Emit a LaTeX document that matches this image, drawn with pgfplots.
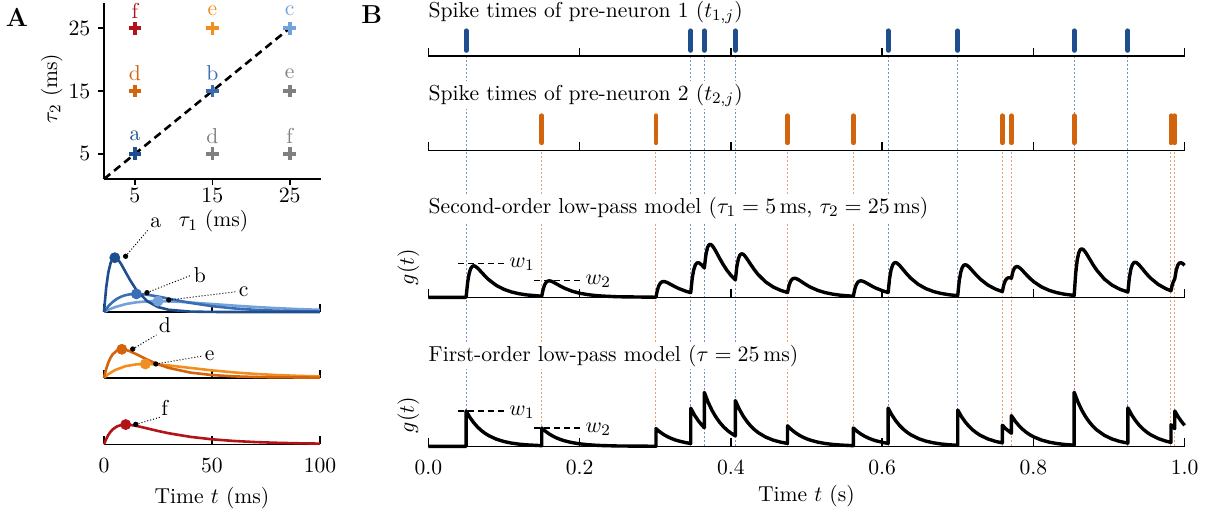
\documentclass[border=0pt]{standalone}
\usepackage{pgfplots}
\pgfplotsset{compat=1.18}
\definecolor{cA}{RGB}{31,78,143}
\definecolor{cB}{RGB}{58,110,180}
\definecolor{cC}{RGB}{115,162,218}
\definecolor{cD}{RGB}{210,100,14}
\definecolor{cE}{RGB}{242,142,30}
\definecolor{cF}{RGB}{178,18,24}
\definecolor{cG}{RGB}{128,128,128}
\definecolor{dBlue}{RGB}{70,110,180}
\definecolor{dOrange}{RGB}{220,110,40}
\pgfplotsset{
  common/.style={scale only axis, anchor=south west, clip=false,
    axis x line*=bottom, axis y line=none, ytick=\empty,
    xtick align=inside, major tick length=4pt,
    tick style={black, line width=0.8pt},
    axis line style={black, line width=0.8pt}},
  rowax/.style={common, width=378.15pt, xmin=0, xmax=1, ymin=0,
    xtick={0,0.2,0.4,0.6,0.8,1}, xticklabels={}},
  kax/.style={common, width=108pt, xmin=0, xmax=100, ymin=0,
    xtick={0,50,100}, xticklabels={}},
}
\begin{document}
\fontsize{10.8}{12.5}\selectfont
\begin{tikzpicture}
\useasboundingbox (0,0) rectangle (603pt,258pt);

% ---------------- Panel A: tau grid
\begin{axis}[at={(52pt,168.5pt)}, anchor=south west, scale only axis,
  width=108.35pt, height=88pt, xmin=1, xmax=29, ymin=1, ymax=29,
  axis x line*=bottom, axis y line*=left, clip=false,
  xtick={5,15,25}, ytick={5,15,25}, tick align=outside, major tick length=3pt,
  xticklabel style={inner sep=1.5pt},
  tick style={black, line width=0.8pt}, axis line style={black, line width=0.8pt}]
\addplot[black, line width=1.3pt, dash pattern=on 4pt off 2.5pt] coordinates {(1,1) (25,25)};
\addplot[only marks, mark=+, mark size=3.2pt, line width=1.8pt, cG] coordinates {(15,5) (25,15) (25,5)};
\addplot[only marks, mark=+, mark size=3.2pt, line width=1.8pt, cA] coordinates {(5,5)};
\addplot[only marks, mark=+, mark size=3.2pt, line width=1.8pt, cB] coordinates {(15,15)};
\addplot[only marks, mark=+, mark size=3.2pt, line width=1.8pt, cC] coordinates {(25,25)};
\addplot[only marks, mark=+, mark size=3.2pt, line width=1.8pt, cD] coordinates {(5,15)};
\addplot[only marks, mark=+, mark size=3.2pt, line width=1.8pt, cE] coordinates {(15,25)};
\addplot[only marks, mark=+, mark size=3.2pt, line width=1.8pt, cF] coordinates {(5,25)};
\node[cA] at (axis cs:5,5) [yshift=8.8pt] {a};
\node[cB] at (axis cs:15,15) [yshift=8.8pt] {b};
\node[cC] at (axis cs:25,25) [yshift=8.8pt] {c};
\node[cD] at (axis cs:5,15) [yshift=8.8pt] {d};
\node[cE] at (axis cs:15,25) [yshift=8.8pt] {e};
\node[cF] at (axis cs:5,25) [yshift=8.8pt] {f};
\node[cG] at (axis cs:15,5) [yshift=8.8pt] {d};
\node[cG] at (axis cs:25,15) [yshift=8.8pt] {e};
\node[cG] at (axis cs:25,5) [yshift=8.8pt] {f};
\end{axis}
\node at (106.75pt,147.3pt) {$\tau_1$ (ms)};
\node[rotate=90] at (25.8pt,213.8pt) {$\tau_2$ (ms)};
\node[font=\fontsize{13}{15}\selectfont\bfseries] at (8.5pt,249.3pt) {A};
\node[font=\fontsize{13}{15}\selectfont\bfseries] at (185.85pt,250.5pt) {B};

% ---------------- Panel A: kernels a,b,c
\begin{axis}[kax, at={(52pt,102pt)}, height=29.52pt, ymax=80]
\addplot[cC, line width=1.3pt] coordinates {(0,0) (2,2.95) (5,6.55) (10,10.72) (15,13.17) (20,14.38) (25,14.72) (30,14.46) (35,13.81) (40,12.92) (50,10.82) (60,8.71) (70,6.81) (80,5.22) (90,3.93) (100,2.93)};
\addplot[cB, line width=1.3pt] coordinates {(0,0) (2,7.78) (4,13.62) (6,17.88) (8,20.86) (10,22.82) (12,23.96) (15,24.53) (18,24.10) (20,23.43) (25,20.99) (30,18.04) (35,15.09) (40,12.36) (50,7.93) (60,4.88) (70,2.92) (80,1.72) (90,0.99) (100,0.56)};
\addplot[cA, line width=1.3pt] coordinates {(0,0) (1,32.75) (2,53.62) (3,65.86) (4,71.89) (5,73.58) (6,72.29) (7,69.05) (8,64.61) (10,54.13) (12,43.54) (15,29.88) (20,14.64) (25,6.74) (30,2.98) (40,0.54) (50,0.09) (60,0.01) (100,0)};
\addplot[only marks, mark=*, mark size=2.5pt, cA] coordinates {(5,73.58)};
\addplot[only marks, mark=*, mark size=2.5pt, cB] coordinates {(15,24.53)};
\addplot[only marks, mark=*, mark size=2.5pt, cC] coordinates {(25,14.72)};
\draw[densely dotted, line width=0.5pt] (axis cs:10,75.5) -- (axis cs:20.3,111) node[anchor=south west, inner sep=1pt] {a};
\draw[densely dotted, line width=0.5pt] (axis cs:19.9,26.2) -- (axis cs:40.5,50) node[anchor=west, inner sep=1pt] {b};
\draw[densely dotted, line width=0.5pt] (axis cs:30,16.3) -- (axis cs:61.3,27.5) node[anchor=west, inner sep=1pt] {c};
\addplot[only marks, mark=*, mark size=1.1pt, black] coordinates {(10,75.5) (19.9,26.2) (30,16.3)};
\end{axis}

% ---------------- Panel A: kernels d,e
\begin{axis}[kax, at={(52pt,69.15pt)}, height=16.6pt, ymax=45]
\addplot[cE, line width=1.3pt] coordinates {(0,0) (2,4.79) (5,10.22) (10,15.69) (15,18.09) (20,18.57) (25,17.90) (30,16.59) (40,13.24) (50,9.96) (60,7.24) (70,5.14) (80,3.60) (90,2.48) (100,1.70)};
\addplot[cD, line width=1.3pt] coordinates {(0,0) (1,11.68) (2,20.49) (3,26.99) (4,31.66) (6,36.91) (8,38.47) (10,37.81) (12,35.86) (15,31.81) (20,24.53) (25,18.22) (30,13.28) (40,6.92) (50,3.57) (60,1.83) (70,0.94) (80,0.48) (100,0.13)};
\addplot[only marks, mark=*, mark size=2.5pt, cD] coordinates {(8.24,38.5)};
\addplot[only marks, mark=*, mark size=2.5pt, cE] coordinates {(19.16,18.6)};
\draw[densely dotted, line width=0.5pt] (axis cs:13.3,38.9) -- (axis cs:24.3,58) node[anchor=south west, inner sep=1pt] {d};
\draw[densely dotted, line width=0.5pt] (axis cs:24,18.6) -- (axis cs:45.6,29.4) node[anchor=west, inner sep=1pt] {e};
\addplot[only marks, mark=*, mark size=1.1pt, black] coordinates {(13.3,38.9) (24,18.6)};
\end{axis}

% ---------------- Panel A: kernel f
\begin{axis}[kax, at={(52pt,35.85pt)}, height=14.76pt, ymax=40,
  xticklabels={0,50,100}, xticklabel style={yshift=-3pt}]
\addplot[cF, line width=1.3pt] coordinates {(0,0) (1,7.10) (2,12.64) (3,16.91) (4,20.14) (6,24.27) (8,26.21) (10,26.75) (12,26.40) (15,24.95) (20,21.55) (25,18.06) (30,14.94) (40,10.08) (50,6.77) (60,4.54) (70,3.04) (80,2.04) (90,1.37) (100,0.92)};
\addplot[only marks, mark=*, mark size=2.5pt, cF] coordinates {(10.06,26.75)};
\draw[densely dotted, line width=0.5pt] (axis cs:14.7,27.1) -- (axis cs:25.9,36.6) node[anchor=south west, inner sep=0.5pt] {f};
\addplot[only marks, mark=*, mark size=1.1pt, black] coordinates {(14.7,27.1)};
\end{axis}
\node at (106pt,9pt) {Time $t$ (ms)};

% ---------------- Panel B: dashed guide lines
\begin{axis}[at={(214.15pt,34.85pt)}, anchor=south west, scale only axis,
  width=378.15pt, height=195.15pt, xmin=0, xmax=1, ymin=0, ymax=1,
  hide axis, clip=false, unbounded coords=jump]
\addplot[dBlue, opacity=0.75, line width=0.5pt, dash pattern=on 1.2pt off 0.8pt] coordinates {
(0.050,0) (0.050,1) (0.050,nan) (0.347,0) (0.347,1) (0.347,nan)
(0.365,0) (0.365,1) (0.365,nan) (0.406,0) (0.406,1) (0.406,nan)
(0.608,0) (0.608,1) (0.608,nan) (0.700,0) (0.700,1) (0.700,nan)
(0.854,0) (0.854,1) (0.854,nan) (0.925,0) (0.925,1)};
\addplot[dOrange, opacity=0.65, line width=0.5pt, dash pattern=on 1.2pt off 0.8pt] coordinates {
(0.150,0) (0.150,0.758) (0.150,nan) (0.301,0) (0.301,0.758) (0.301,nan)
(0.475,0) (0.475,0.758) (0.475,nan) (0.562,0) (0.562,0.758) (0.562,nan)
(0.759,0) (0.759,0.758) (0.759,nan) (0.771,0) (0.771,0.758) (0.771,nan)
(0.854,0) (0.854,0.758) (0.854,nan) (0.982,0) (0.982,0.758) (0.982,nan)
(0.987,0) (0.987,0.758)};
\end{axis}

% titles (white boxes over guide lines)
\node[anchor=base west, fill=white, inner sep=1.5pt] at (212.65pt,249.3pt) {Spike times of pre-neuron 1 ($t_{1,j}$)};
\node[anchor=base west, fill=white, inner sep=1.5pt] at (212.65pt,208pt) {Spike times of pre-neuron 2 ($t_{2,j}$)};
\node[anchor=base west, fill=white, inner sep=1.5pt] at (212.65pt,151.3pt) {Second-order low-pass model ($\tau_1 = 5$\,ms, $\tau_2 = 25$\,ms)};
\node[anchor=base west, fill=white, inner sep=1.5pt] at (212.65pt,77.5pt) {First-order low-pass model ($\tau = 25$\,ms)};

% ---------------- Panel B: spike row 1
\begin{axis}[rowax, at={(214.15pt,230pt)}, height=14pt, ymax=1, unbounded coords=jump]
\addplot[cA, line width=2.4pt, line cap=round] coordinates {
(0.050,0.2) (0.050,0.9) (0.050,nan) (0.347,0.2) (0.347,0.9) (0.347,nan)
(0.365,0.2) (0.365,0.9) (0.365,nan) (0.406,0.2) (0.406,0.9) (0.406,nan)
(0.608,0.2) (0.608,0.9) (0.608,nan) (0.700,0.2) (0.700,0.9) (0.700,nan)
(0.854,0.2) (0.854,0.9) (0.854,nan) (0.925,0.2) (0.925,0.9)};
\end{axis}

% ---------------- Panel B: spike row 2
\begin{axis}[rowax, at={(214.15pt,182.85pt)}, height=18pt, ymax=1, unbounded coords=jump]
\addplot[cD, line width=2.4pt, line cap=round] coordinates {
(0.150,0.21) (0.150,0.96) (0.150,nan) (0.301,0.21) (0.301,0.96) (0.301,nan)
(0.475,0.21) (0.475,0.96) (0.475,nan) (0.562,0.21) (0.562,0.96) (0.562,nan)
(0.759,0.21) (0.759,0.96) (0.759,nan) (0.771,0.21) (0.771,0.96) (0.771,nan)
(0.854,0.21) (0.854,0.96) (0.854,nan) (0.982,0.21) (0.982,0.96) (0.982,nan)
(0.987,0.21) (0.987,0.96)};
\end{axis}

% ---------------- Panel B: second-order model
\begin{axis}[rowax, at={(214.15pt,109.35pt)}, height=28.35pt, ymax=1.8]
\addplot[black, line width=1.7pt, line join=round] coordinates {
(0,0) (0.05,0) (0.052,0.4725) (0.054,0.7529) (0.056,0.9073) (0.058,0.9798) (0.06,1.0) (0.062,0.9871) (0.065,0.9327) (0.07,0.8056) (0.075,0.6751) (0.08,0.5583) (0.09,0.3768) (0.1,0.2529) (0.11,0.1695) (0.12,0.1136) (0.13,0.0763) (0.15,0.0342)
(0.152,0.2679) (0.154,0.4054) (0.156,0.4806) (0.158,0.5146) (0.16,0.5228) (0.162,0.5146) (0.165,0.4851) (0.17,0.4181) (0.175,0.3501) (0.18,0.2894) (0.19,0.1951) (0.2,0.131) (0.21,0.0879) (0.22,0.0589) (0.23,0.0395) (0.25,0.0178) (0.301,0.0023)
(0.303,0.2383) (0.305,0.3783) (0.307,0.4553) (0.309,0.4914) (0.311,0.5015) (0.313,0.4948) (0.316,0.4677) (0.321,0.4037) (0.326,0.3383) (0.331,0.2798) (0.341,0.1888) (0.347,0.1486)
(0.349,0.6097) (0.351,0.8796) (0.353,1.0243) (0.355,1.0879) (0.357,1.0998) (0.359,1.0793) (0.362,1.0144) (0.365,0.9314)
(0.367,1.3452) (0.369,1.567) (0.371,1.6647) (0.373,1.6829) (0.375,1.6516) (0.377,1.5903) (0.38,1.4694) (0.385,1.2462) (0.39,1.0363) (0.395,0.8542) (0.4,0.7015) (0.406,0.5527)
(0.408,0.9828) (0.41,1.2241) (0.412,1.3423) (0.414,1.3813) (0.416,1.3709) (0.418,1.3296) (0.421,1.2363) (0.426,1.0542) (0.431,0.8787) (0.436,0.7251) (0.446,0.4886) (0.456,0.3277) (0.466,0.2196) (0.475,0.1533)
(0.477,0.3776) (0.479,0.5069) (0.481,0.5742) (0.483,0.6011) (0.485,0.6026) (0.487,0.5882) (0.49,0.5505) (0.495,0.4716) (0.5,0.3938) (0.505,0.3252) (0.515,0.2193) (0.525,0.1471) (0.535,0.0987) (0.545,0.0662) (0.562,0.0335)
(0.564,0.2671) (0.566,0.4049) (0.568,0.48) (0.57,0.5142) (0.572,0.5223) (0.574,0.5142) (0.577,0.4847) (0.582,0.4178) (0.587,0.3497) (0.592,0.2892) (0.602,0.1951) (0.608,0.1536)
(0.61,0.6144) (0.612,0.8838) (0.614,1.0282) (0.616,1.0914) (0.618,1.103) (0.62,1.0823) (0.623,1.017) (0.628,0.8746) (0.633,0.7316) (0.638,0.6047) (0.648,0.4079) (0.658,0.2736) (0.668,0.1836) (0.678,0.123) (0.688,0.0826) (0.7,0.051)
(0.702,0.5196) (0.704,0.7965) (0.706,0.9475) (0.708,1.0168) (0.71,1.0342) (0.712,1.0187) (0.715,0.9608) (0.72,0.8286) (0.725,0.6938) (0.73,0.5737) (0.74,0.3871) (0.75,0.2598) (0.759,0.1813)
(0.761,0.4036) (0.763,0.5309) (0.765,0.5963) (0.767,0.6215) (0.769,0.6215) (0.771,0.6056)
(0.773,0.8167) (0.775,0.9268) (0.777,0.9712) (0.779,0.9742) (0.781,0.9514) (0.783,0.9131) (0.786,0.841) (0.791,0.7114) (0.796,0.5909) (0.801,0.4869) (0.811,0.3277) (0.821,0.2198) (0.831,0.1475) (0.841,0.0989) (0.854,0.0589)
(0.856,0.763) (0.858,1.1795) (0.86,1.4073) (0.862,1.5124) (0.864,1.5395) (0.866,1.517) (0.869,1.4314) (0.874,1.2348) (0.879,1.0342) (0.884,0.8553) (0.894,0.577) (0.904,0.3871) (0.914,0.2596) (0.925,0.1673)
(0.927,0.6269) (0.929,0.8955) (0.931,1.0389) (0.933,1.1013) (0.935,1.1122) (0.937,1.0907) (0.94,1.0245) (0.945,0.8808) (0.95,0.7366) (0.955,0.6088) (0.965,0.4107) (0.975,0.2755) (0.982,0.2084)
(0.984,0.4286) (0.987,0.5918) (0.989,0.8694) (0.991,1.0193) (0.993,1.0862) (0.995,1.0998) (0.997,1.0808) (1,1.0168)};
\draw[densely dashed, line width=0.6pt] (axis cs:0.039,1.08) -- (axis cs:0.1,1.08);
\node[anchor=west, inner sep=1pt] at (axis cs:0.104,1.04) {$w_1$};
\draw[densely dashed, line width=0.6pt] (axis cs:0.14,0.54) -- (axis cs:0.2,0.54);
\node[anchor=west, inner sep=1pt] at (axis cs:0.205,0.5) {$w_2$};
\end{axis}
\node[rotate=90] at (204.15pt,124.5pt) {$g(t)$};

% ---------------- Panel B: first-order model
\begin{axis}[rowax, at={(214.15pt,34.85pt)}, height=28.24pt, ymax=1.6,
  xticklabels={0.0,0.2,0.4,0.6,0.8,1.0}, xticklabel style={yshift=-3pt}]
\addplot[black, line width=1.7pt, line join=round] coordinates {
(0,0) (0.05,0) (0.05,1) (0.055,0.8187) (0.06,0.6703) (0.065,0.5488) (0.07,0.4493) (0.075,0.3679) (0.08,0.3012) (0.09,0.2019) (0.1,0.1353) (0.11,0.0907) (0.12,0.0608) (0.13,0.0408) (0.15,0.0183)
(0.15,0.5183) (0.155,0.4243) (0.16,0.3474) (0.165,0.2844) (0.17,0.2329) (0.175,0.1907) (0.18,0.1561) (0.19,0.1046) (0.2,0.0701) (0.21,0.047) (0.22,0.0315) (0.23,0.0211) (0.25,0.0095) (0.301,0.0012)
(0.301,0.5012) (0.306,0.4103) (0.311,0.336) (0.316,0.2751) (0.321,0.2252) (0.326,0.1844) (0.331,0.151) (0.341,0.1012) (0.347,0.0796)
(0.347,1.0796) (0.352,0.8839) (0.357,0.7237) (0.362,0.5925) (0.365,0.5256)
(0.365,1.5256) (0.37,1.249) (0.375,1.0226) (0.38,0.8373) (0.385,0.6855) (0.39,0.5613) (0.395,0.4595) (0.4,0.3762) (0.406,0.296)
(0.406,1.296) (0.411,1.061) (0.416,0.8687) (0.421,0.7112) (0.426,0.5823) (0.431,0.4768) (0.436,0.3904) (0.446,0.2617) (0.456,0.1753) (0.466,0.1175) (0.475,0.082)
(0.475,0.582) (0.48,0.4765) (0.485,0.3901) (0.49,0.3194) (0.495,0.2615) (0.5,0.2141) (0.505,0.1753) (0.515,0.1175) (0.525,0.0787) (0.535,0.0528) (0.545,0.0354) (0.562,0.0179)
(0.562,0.5179) (0.567,0.424) (0.572,0.3471) (0.577,0.2842) (0.582,0.2327) (0.587,0.1905) (0.592,0.156) (0.602,0.1046) (0.608,0.0822)
(0.608,1.0822) (0.613,0.886) (0.618,0.7254) (0.623,0.5939) (0.628,0.4862) (0.633,0.3981) (0.638,0.326) (0.648,0.2185) (0.658,0.1464) (0.668,0.0982) (0.678,0.0658) (0.688,0.0442) (0.7,0.0273)
(0.7,1.0273) (0.705,0.8411) (0.71,0.6886) (0.715,0.5638) (0.72,0.4616) (0.725,0.3779) (0.73,0.3094) (0.74,0.2074) (0.75,0.139) (0.759,0.097)
(0.759,0.597) (0.764,0.4888) (0.771,0.3694)
(0.771,0.8694) (0.776,0.7118) (0.781,0.5828) (0.786,0.4771) (0.791,0.3906) (0.796,0.3198) (0.801,0.2619) (0.811,0.1755) (0.821,0.1176) (0.831,0.0789) (0.841,0.0529) (0.854,0.0315)
(0.854,1.5315) (0.859,1.2538) (0.864,1.0266) (0.869,0.8405) (0.874,0.6881) (0.879,0.5634) (0.884,0.4613) (0.894,0.3092) (0.904,0.2072) (0.914,0.1389) (0.925,0.0895)
(0.925,1.0895) (0.93,0.892) (0.935,0.7303) (0.94,0.5979) (0.945,0.4895) (0.95,0.4008) (0.955,0.3282) (0.965,0.22) (0.975,0.1474) (0.982,0.1115)
(0.982,0.6115) (0.987,0.5006)
(0.987,1.0006) (0.992,0.8192) (0.997,0.6707) (1,0.5948)};
\draw[densely dashed, line width=0.6pt] (axis cs:0.039,1.0) -- (axis cs:0.1,1.0);
\node[anchor=west, inner sep=1pt] at (axis cs:0.104,0.96) {$w_1$};
\draw[densely dashed, line width=0.6pt] (axis cs:0.14,0.518) -- (axis cs:0.2,0.518);
\node[anchor=west, inner sep=1pt] at (axis cs:0.205,0.48) {$w_2$};
\end{axis}
\node[rotate=90] at (204.15pt,50.5pt) {$g(t)$};
\node at (403.2pt,10pt) {Time $t$ (s)};
\end{tikzpicture}
\end{document}
